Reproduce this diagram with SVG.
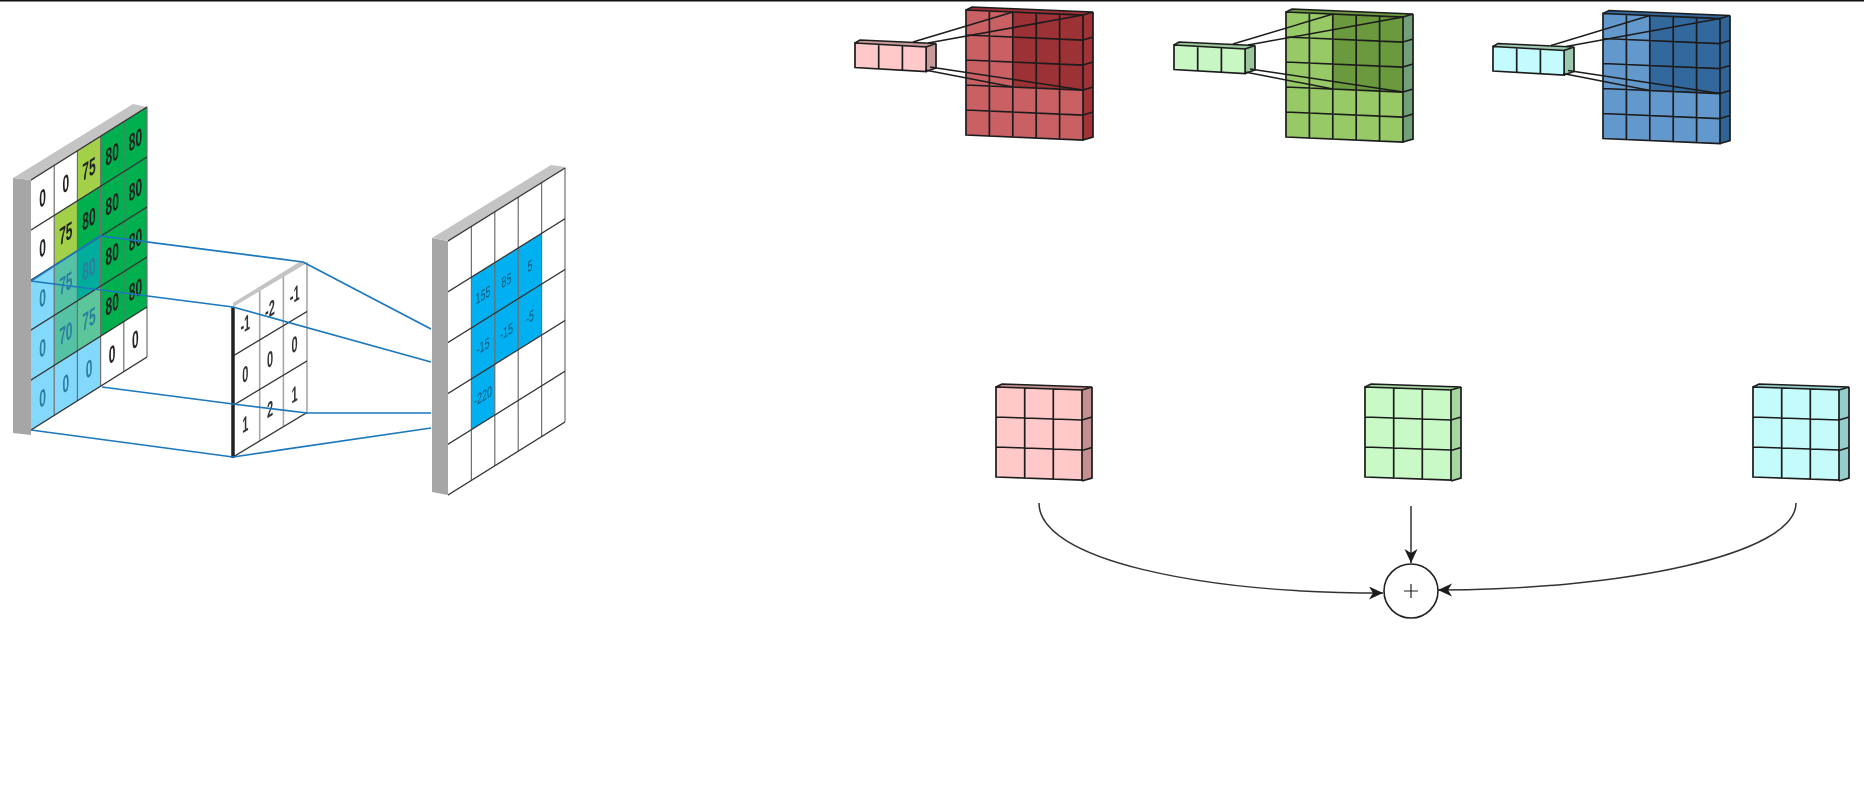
<svg xmlns="http://www.w3.org/2000/svg" xmlns:xlink="http://www.w3.org/1999/xlink" width="1864" height="798" viewBox="0 0 1864 798">
<style>
text{font-family:"Liberation Sans",Arial,sans-serif;text-anchor:middle}
.d{font-size:24px;font-weight:bold;fill:#222}
.dk{font-size:22px;font-weight:bold;fill:#333}
.db{font-size:24px;font-weight:bold;fill:#2b7f9f}
.dw{font-size:15px;fill:#14587a}
.wh{fill:#fff}.gn{fill:#00b050}.lg{fill:#a2d149}.bl{fill:#83d9fb}.t1{fill:#55c2a6}.t2{fill:#00ad9c}.t3{fill:#5cc69a}.cy{fill:#00b0f0}
.side{fill:#a6a6a6}.topb{fill:#c4c4c4}
.gv{stroke:#6f6f6f;stroke-width:1.200;fill:none}
.gh{stroke:#333;stroke-width:1.500;fill:none}
.blue{stroke:#1b78bd;stroke-width:1.700;fill:none}
.cf{fill:var(--face)}.cd{fill:var(--dark)}.cs{fill:var(--side)}
.cl{stroke:#1c1c1c;stroke-width:1.700;fill:none}
.link{stroke:#1c1c1c;stroke-width:1.500;fill:none}
.arr{stroke:#333;stroke-width:1.500;fill:none;marker-end:url(#head)}
</style>
<defs>
<filter id="soft" filterUnits="userSpaceOnUse" x="0" y="0" width="1864" height="798"><feGaussianBlur stdDeviation="0.4"/></filter>
<marker id="head" markerUnits="userSpaceOnUse" markerWidth="16" markerHeight="14" refX="14" refY="6.500" orient="auto"><path d="M0,0 L14,6.500 L0,13 L4,6.500 Z" fill="#1c1c1c"/></marker>
<g id="big">
<polygon class="cs" points="1083,15 1093,12 1093,137 1083,140"/>
<polygon class="cd" points="966,10 972,7 1093,12 1083,15"/>
<g transform="matrix(1,.043,0,1,966,10)">
<rect class="cf" width="117" height="125"/>
<rect class="cd" x="46.800" width="70.200" height="75"/>
<path class="cl" d="M0,0H117V125H0ZM23.400,0V125M46.800,0V125M70.200,0V125M93.600,0V125M0,25H117M0,50H117M0,75H117M0,100H117"/>
</g>
<path class="cl" d="M966,10 972,7 1093,12 1083,15M1093,12V137L1083,140M1083,40 1093,37M1083,65 1093,62M1083,90 1093,87M1083,115 1093,112"/>
</g>
<g id="small">
<polygon class="cs" points="926,47 936,43.500 936,68 926,71.500"/>
<polygon class="cs" points="855,43 860,40 936,43.500 926,47"/>
<g transform="matrix(1,.056,0,1,855,43)">
<rect class="cf" width="71.100" height="24.500"/>
<path class="cl" d="M0,0H71.100V24.500H0ZM23.700,0V24.500M47.400,0V24.500"/>
</g>
<path class="cl" d="M855,43 860,40 936,43.500 926,47M936,43.500V68L926,71.500"/>
</g>
<g id="mid">
<polygon class="cs" points="1082,390 1092,387 1092,478 1082,481"/>
<polygon class="cs" points="996,387 1002,384 1092,387 1082,390"/>
<g transform="matrix(1,.035,0,1,996,387)">
<rect class="cf" width="86" height="90"/>
<path class="cl" d="M0,0H86V90H0ZM28.700,0V90M57.300,0V90M0,30H86M0,60H86"/>
</g>
<path class="cl" d="M996,387 1002,384 1092,387 1082,390M1092,387V478L1082,481M1082,420 1092,417M1082,450.500 1092,447.500"/>
</g>
</defs>
<rect width="1864" height="798" fill="#fff"/>
<rect id="topline" width="1864" height="1.500" fill="#111"/>
<g id="diagram" filter="url(#soft)">
<g id="input-grid">
<polygon class="side" points="13,178 31,180 31,435 13,433"/>
<polygon class="topb" points="13,178 133,104 147,107 31,180"/>
<g transform="matrix(1,-.63,0,1,31,180)">
<rect class="wh" width="116" height="250"/>
<rect class="lg" x="46.400" width="23.200" height="50"/>
<rect class="gn" x="69.600" width="46.400" height="50"/>
<rect class="lg" x="23.200" y="50" width="23.200" height="50"/>
<rect class="gn" x="46.400" y="50" width="69.600" height="50"/>
<rect class="bl" y="100" width="23.200" height="150"/>
<rect class="t1" x="23.200" y="100" width="23.200" height="100"/>
<rect class="t2" x="46.400" y="100" width="23.200" height="50"/>
<rect class="t3" x="46.400" y="150" width="23.200" height="50"/>
<rect class="gn" x="69.600" y="100" width="46.400" height="100"/>
<rect class="bl" x="23.200" y="200" width="46.400" height="50"/>
<path class="gv" d="M23.200,0V250M46.400,0V250M69.600,0V250M92.800,0V250M116,0V250"/>
<path class="gh" d="M0,0H116M0,50H116M0,100H116M0,150H116M0,200H116M0,250H116"/>
</g>
<g transform="matrix(.5,-.315,0,1,31,180)">
<text class="d" x="23.200" y="33.500">0</text><text class="d" x="69.600" y="33.500">0</text><text class="d" x="116" y="33.500">75</text><text class="d" x="162.400" y="33.500">80</text><text class="d" x="208.800" y="33.500">80</text>
<text class="d" x="23.200" y="83.500">0</text><text class="d" x="69.600" y="83.500">75</text><text class="d" x="116" y="83.500">80</text><text class="d" x="162.400" y="83.500">80</text><text class="d" x="208.800" y="83.500">80</text>
<text class="db" x="23.200" y="133.500">0</text><text class="db" x="69.600" y="133.500">75</text><text class="db" x="116" y="133.500">80</text><text class="d" x="162.400" y="133.500">80</text><text class="d" x="208.800" y="133.500">80</text>
<text class="db" x="23.200" y="183.500">0</text><text class="db" x="69.600" y="183.500">70</text><text class="db" x="116" y="183.500">75</text><text class="d" x="162.400" y="183.500">80</text><text class="d" x="208.800" y="183.500">80</text>
<text class="db" x="23.200" y="233.500">0</text><text class="db" x="69.600" y="233.500">0</text><text class="db" x="116" y="233.500">0</text><text class="d" x="162.400" y="233.500">0</text><text class="d" x="208.800" y="233.500">0</text>
</g>
</g>

<g id="kernel">
<polygon class="topb" points="233,307 233,303 301,261 307,263"/>
<g transform="matrix(1,-.6,0,1,233,307)">
<path class="gv" d="M26.700,0V150M50.400,0V150M74,0V150" style="stroke:#a8a8a8;stroke-width:1.600"/>
<path class="gh" d="M0,49H74M0,98.500H74M0,150H74"/>
</g>
<line x1="233" y1="307" x2="233" y2="458" stroke="#222" stroke-width="3.500"/>
<g transform="matrix(.5,-.3,0,1,233,307)">
<text class="dk" x="24.700" y="32">-1</text><text class="dk" x="74" y="32">-2</text><text class="dk" x="123.300" y="32">-1</text>
<text class="dk" x="24.700" y="82">0</text><text class="dk" x="74" y="82">0</text><text class="dk" x="123.300" y="82">0</text>
<text class="dk" x="24.700" y="132">1</text><text class="dk" x="74" y="132">2</text><text class="dk" x="123.300" y="132">1</text>
</g>
</g>

<g id="output-grid">
<polygon class="side" points="432,238 448,241 448,495 432,492"/>
<polygon class="topb" points="432,238 551,165 565,167 448,241"/>
<g transform="matrix(1,-.624,0,1,448,241)">
<rect class="wh" width="117" height="254"/>
<rect class="cy" x="23.400" y="50.800" width="70.200" height="50.800"/>
<rect class="cy" x="23.400" y="101.600" width="70.200" height="50.800"/>
<rect class="cy" x="23.400" y="152.400" width="23.400" height="50.800"/>
<path class="gv" d="M23.400,0V254M46.800,0V254M70.200,0V254M93.600,0V254M117,0V254"/>
<path class="gh" d="M0,0H117M0,50.800H117M0,101.600H117M0,152.400H117M0,203.200H117M0,254H117"/>
</g>
<g transform="matrix(.6,-.3744,0,1,448,241)">
<text class="dw" x="58.500" y="81">155</text><text class="dw" x="97.500" y="81">85</text><text class="dw" x="136.500" y="81">5</text>
<text class="dw" x="58.500" y="132">-15</text><text class="dw" x="97.500" y="132">-15</text><text class="dw" x="136.500" y="132">-5</text>
<text class="dw" x="58.500" y="182">-220</text>
</g>
</g>

<g id="red-small" style="--face:#ffc9c9;--side:#c79a9a"><use href="#small"/></g>
<g id="red-big" style="--face:#c96064;--dark:#9c3035;--side:#a03238"><use href="#big"/></g>
<g id="green-small" transform="translate(319,2)" style="--face:#c9f7c3;--side:#9cc79c"><use href="#small"/></g>
<g id="green-big" transform="translate(320,2)" style="--face:#97c966;--dark:#6a9a3c;--side:#6f9f78"><use href="#big"/></g>
<g id="blue-small" transform="translate(638,3.500)" style="--face:#c4fbff;--side:#9cc9ae"><use href="#small"/></g>
<g id="blue-big" transform="translate(637,3.500)" style="--face:#6298cc;--dark:#33679c;--side:#2f6596"><use href="#big"/></g>
<g id="red-kernel" style="--face:#ffc9c9;--side:#c48f8f"><use href="#mid"/></g>
<g id="green-kernel" transform="translate(369,0)" style="--face:#c9f9c6;--side:#a5d6a0"><use href="#mid"/></g>
<g id="cyan-kernel" transform="translate(757,0)" style="--face:#c6fbfb;--side:#95cccc"><use href="#mid"/></g>

<g id="sum">
<circle cx="1411" cy="591" r="27" fill="#fff" stroke="#222" stroke-width="1.600"/>
<path d="M1404,591H1418M1411,584V598" stroke="#222" stroke-width="1.200" fill="none"/>
</g>

<g id="connectors">
<path class="blue" d="M31,281 100,236 303,262M31,281 233,307M102,387 233,404M31,430 233,457"/>
<path class="blue" d="M303,262 431,329M233,307 431,362M233,404 307,413H431M233,457 431,428"/>
<path class="link" d="M913,42 1013,12M928,43 1083,15M930,67 1083,90M925,70 1013,87"/>
<path class="link" d="M1233,44 1333,14M1248,45 1403,17M1250,69 1403,92M1245,72 1333,89"/>
<path class="link" d="M1551,45.500 1650,15.500M1566,46.500 1720,18.500M1568,70.500 1720,93.500M1563,73.500 1650,90.500"/>
<path class="arr" d="M1411,506V563"/>
<path class="arr" d="M1039,503C1039,560 1200,593 1383,593"/>
<path class="arr" d="M1796,503C1796,555 1620,590 1438,590"/>
</g>
</g>
</svg>
